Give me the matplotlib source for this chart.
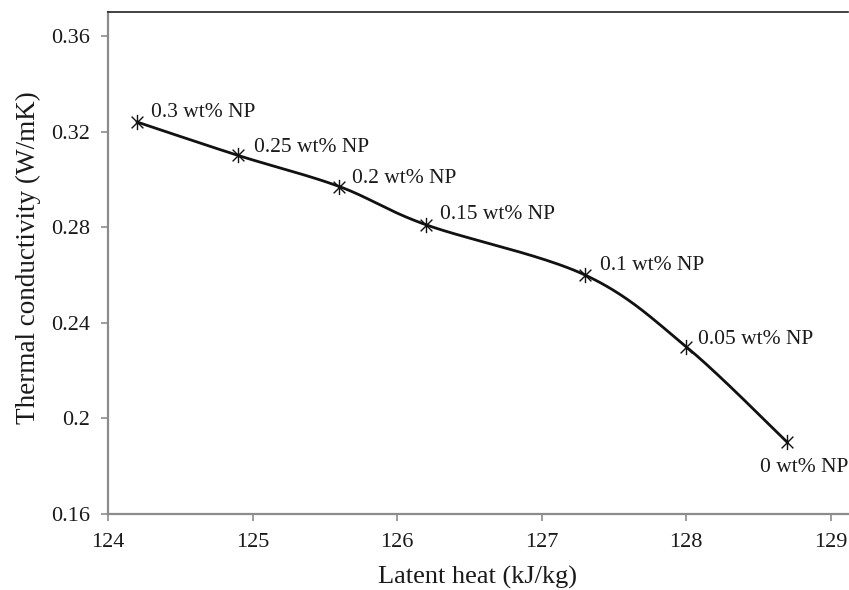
import numpy as np
import matplotlib
matplotlib.use("Agg")
import matplotlib.pyplot as plt
from matplotlib.path import Path

# ---- data ----
latent_heat = [124.2, 124.9, 125.6, 126.2, 127.3, 128.0, 128.7]
conductivity = [0.324, 0.310, 0.297, 0.281, 0.260, 0.230, 0.190]
labels = ["0.3 wt% NP", "0.25 wt% NP", "0.2 wt% NP", "0.15 wt% NP",
          "0.1 wt% NP", "0.05 wt% NP", "0 wt% NP"]
x_ticks = [124, 125, 126, 127, 128, 129]
y_ticks = [0.16, 0.2, 0.24, 0.28, 0.32, 0.36]
y_tick_labels = ["0.16", "0.2", "0.24", "0.28", "0.32", "0.36"]

# label offsets in pixels (dx, dy, ha, va)
label_style = [(14, 9, "left", "center"), (16, 8, "left", "center"),
               (13, 8, "left", "center"), (14, 10, "left", "center"),
               (15, 9, "left", "center"), (12, 7, "left", "center"),
               (-27, -25, "left", "center")]

plt.rcParams['font.family'] = ['Liberation Serif', 'DejaVu Serif']
text_color = "#1a1a1a"
spine_gray = "#8c8c8c"

fig = plt.figure(figsize=(8.49, 5.90), dpi=100)
ax = fig.add_axes([108 / 849, 1 - 514 / 590, (848 - 108) / 849, (514 - 12) / 590])


def smooth(xs, ys, n=40):
    # Catmull-Rom (Excel-style smoothed line) through the given points
    xs = np.asarray(xs, float)
    ys = np.asarray(ys, float)
    P = np.column_stack([xs, ys])
    P = np.vstack([P[0], P, P[-1]])
    out = []
    t = np.linspace(0, 1, n)[:, None]
    for i in range(1, len(P) - 2):
        p0, p1, p2, p3 = P[i - 1], P[i], P[i + 1], P[i + 2]
        c1 = p1 + (p2 - p0) / 6
        c2 = p2 - (p3 - p1) / 6
        seg = ((1 - t) ** 3) * p1 + 3 * ((1 - t) ** 2) * t * c1 + 3 * (1 - t) * t ** 2 * c2 + t ** 3 * p2
        out.append(seg if i == 1 else seg[1:])
    seg = np.vstack(out)
    return seg[:, 0], seg[:, 1]


sx, sy = smooth(latent_heat, conductivity)
ax.plot(sx, sy, color="#111111", lw=2.0, solid_capstyle="round", zorder=3)

# Excel-style star marker: X with vertical bar
verts = [(-1, -1), (1, 1), (-1, 1), (1, -1), (0, -1.3), (0, 1.3)]
codes = [Path.MOVETO, Path.LINETO, Path.MOVETO, Path.LINETO, Path.MOVETO, Path.LINETO]
star = Path(verts, codes)
ax.plot(latent_heat, conductivity, linestyle="none", marker=star, markersize=11,
        markeredgecolor="#111111", markerfacecolor="none", markeredgewidth=1.0, zorder=4)

for x, y, lab, (dx, dy, ha, va) in zip(latent_heat, conductivity, labels, label_style):
    ax.annotate(lab, (x, y), xytext=(dx, dy), textcoords="offset pixels",
                ha=ha, va=va, fontsize=15.5, color=text_color)

ax.set_xlim(124, 129.12)
ax.set_ylim(0.16, 0.37)
ax.set_xticks(x_ticks)
ax.set_xticklabels([str(v) for v in x_ticks])
ax.set_yticks(y_ticks)
ax.set_yticklabels(y_tick_labels)

ax.spines["right"].set_visible(False)
ax.spines["top"].set_color("#222222")
ax.spines["top"].set_linewidth(1.2)
for s in ("left", "bottom"):
    ax.spines[s].set_color(spine_gray)
    ax.spines[s].set_linewidth(1.6)

ax.tick_params(axis="both", direction="out", length=5, width=1.2, color=spine_gray,
               labelsize=16, labelcolor=text_color)
ax.tick_params(axis="x", pad=9)
ax.tick_params(axis="y", pad=8)

ax.set_xlabel("Latent heat (kJ/kg)", fontsize=19, color=text_color, labelpad=10)
ax.set_ylabel("Thermal conductivity (W/mK)", fontsize=19.5, color=text_color)
ax.yaxis.set_label_coords(-0.090, 0.51)

fig.savefig("out.png", dpi=100)
